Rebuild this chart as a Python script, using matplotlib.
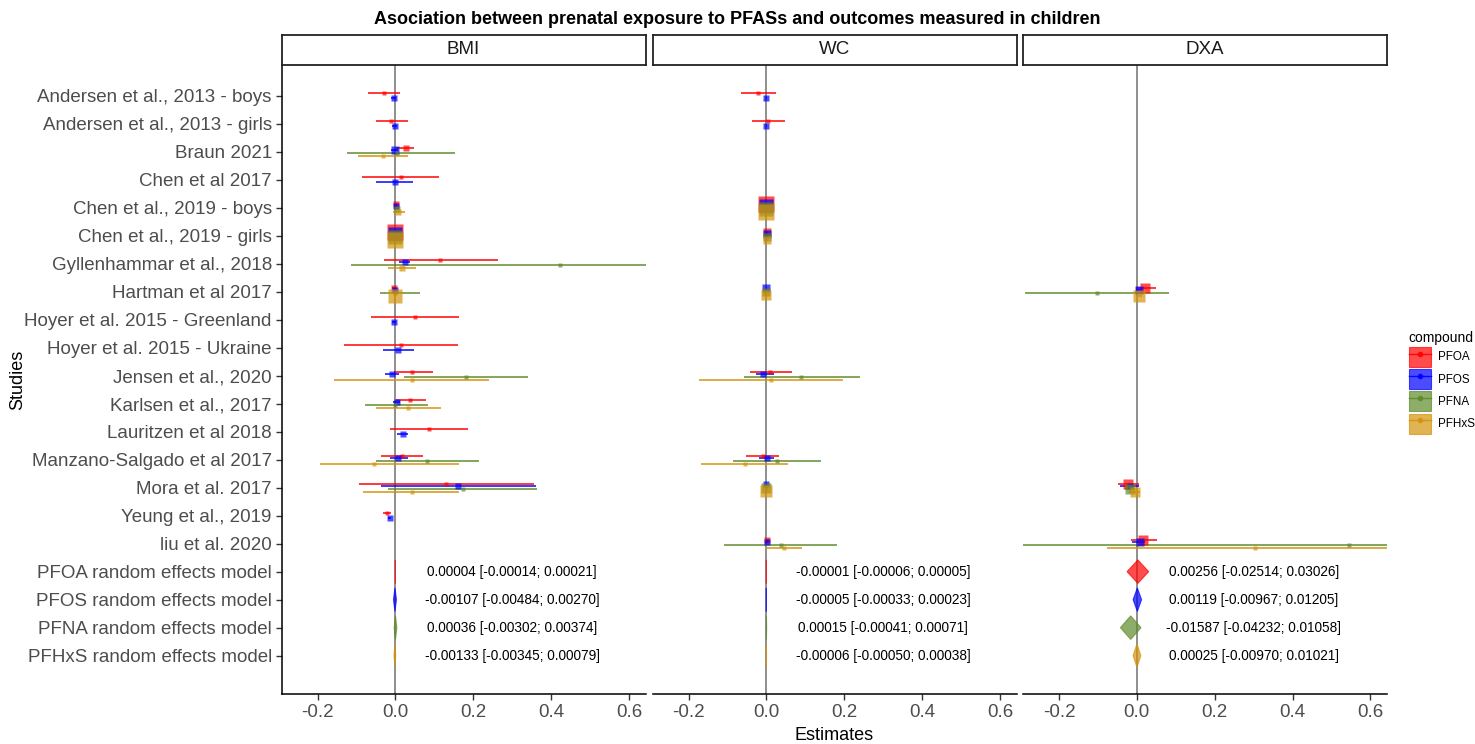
import numpy as np
import matplotlib
matplotlib.use("Agg")
import matplotlib.pyplot as plt
from matplotlib.patches import Patch, Polygon
from matplotlib.lines import Line2D
from matplotlib.legend_handler import HandlerTuple
from matplotlib.ticker import FormatStrFormatter
from matplotlib import font_manager

plt.rcParams['font.family'] = ['Liberation Sans', 'DejaVu Sans']
plt.rcParams['axes.unicode_minus'] = False

# ---------------- data ----------------
studies = ["Andersen et al., 2013 - boys", "Andersen et al., 2013 - girls", "Braun 2021",
           "Chen et al 2017", "Chen et al., 2019 - boys", "Chen et al., 2019 - girls",
           "Gyllenhammar et al., 2018", "Hartman et al 2017", "Hoyer et al. 2015 - Greenland",
           "Hoyer et al. 2015 - Ukraine", "Jensen et al., 2020", "Karlsen et al., 2017",
           "Lauritzen et al 2018", "Manzano-Salgado et al 2017", "Mora et al. 2017",
           "Yeung et al., 2019", "liu et al. 2020"]
re_labels = ["PFOA random effects model", "PFOS random effects model",
             "PFNA random effects model", "PFHxS random effects model"]
outcomes = ["BMI", "WC", "DXA"]
compounds = ["PFOA", "PFOS", "PFNA", "PFHxS"]
colors = ["#FF0000", "#0000FF", "#5F8A2A", "#D4930A"]

N = None
# (estimate, lower, upper, weight) per study, None = not reported
BMI_PFOA = [(-0.028, -0.071, 0.012, 1), (-0.011, -0.051, 0.033, 1), (0.027, 0.002, 0.049, 2),
            (0.015, -0.085, 0.113, 1), (0.001, -0.003, 0.005, 5), (0.000, -0.002, 0.002, 100),
            (0.115, -0.030, 0.263, 1), (-0.003, -0.008, 0.002, 4), (0.050, -0.062, 0.163, 1),
            (0.015, -0.131, 0.160, 1), (0.042, -0.003, 0.096, 1), (0.038, 0.002, 0.079, 1),
            (0.087, -0.013, 0.187, 1), (0.016, -0.037, 0.070, 1), (0.130, -0.094, 0.357, 1),
            (-0.021, -0.031, -0.011, 1), N]
BMI_PFOS = [(-0.004, -0.010, 0.002, 7), (-0.002, -0.008, 0.004, 7), (-0.002, -0.010, 0.006, 10),
            (-0.002, -0.050, 0.046, 2), (0.001, -0.002, 0.004, 6), (0.000, -0.002, 0.002, 90),
            (0.024, 0.010, 0.038, 4), (-0.002, -0.006, 0.002, 5), (-0.003, -0.008, 0.002, 8),
            (0.008, -0.031, 0.049, 4), (-0.008, -0.026, 0.010, 5), (0.004, -0.005, 0.012, 7),
            (0.020, 0.004, 0.033, 5), (0.008, -0.015, 0.032, 5), (0.162, -0.038, 0.361, 2),
            (-0.015, -0.020, -0.010, 5), N]
BMI_PFNA = [N, N, (0.005, -0.124, 0.153, 1), N, (0.004, -0.002, 0.010, 7),
            (0.000, -0.002, 0.002, 90), (0.423, -0.114, 0.960, 1), (0.000, -0.039, 0.062, 1),
            N, N, (0.181, 0.023, 0.341, 1), (0.000, -0.079, 0.083, 1), N,
            (0.080, -0.051, 0.214, 1), (0.173, -0.020, 0.365, 1), N, N]
BMI_PFHxS = [N, N, (-0.032, -0.096, 0.032, 1), N, (0.007, -0.005, 0.025, 5),
             (0.000, -0.002, 0.002, 100), (0.016, -0.020, 0.053, 2), (-0.001, -0.004, 0.002, 70),
             N, N, (0.042, -0.158, 0.241, 1), (0.032, -0.051, 0.117, 1), N,
             (-0.055, -0.193, 0.164, 1), (0.042, -0.084, 0.164, 1), N, N]

WC_PFOA = [(-0.021, -0.064, 0.024, 1), (0.003, -0.038, 0.047, 1), N, N,
           (0.000, -0.002, 0.002, 95), (0.002, 0.000, 0.004, 12), N, N, N, N,
           (0.009, -0.043, 0.067, 1), N, N, (-0.009, -0.053, 0.032, 1), N, N,
           (0.002, -0.002, 0.006, 3)]
WC_PFOS = [(0.000, -0.002, 0.002, 2), (0.000, -0.002, 0.002, 2), N, N,
           (0.000, -0.002, 0.002, 90), (0.002, 0.000, 0.004, 12), N, (0.000, -0.002, 0.002, 15),
           N, N, (-0.009, -0.027, 0.020, 2), N, N, (0.001, -0.019, 0.020, 2),
           (0.000, -0.002, 0.002, 3), N, (0.001, -0.002, 0.004, 4)]
WC_PFNA = [N, N, N, N, (0.000, -0.002, 0.002, 90), (0.002, 0.000, 0.004, 12), N,
           (0.000, -0.002, 0.002, 20), N, N, (0.090, -0.057, 0.240, 1), N, N,
           (0.028, -0.085, 0.141, 1), (0.000, -0.003, 0.003, 34), N,
           (0.038, -0.109, 0.182, 1)]
WC_PFHxS = [N, N, N, N, (0.000, -0.002, 0.002, 95), (0.002, 0.000, 0.004, 12), N,
            (0.000, -0.002, 0.002, 30), N, N, (0.011, -0.173, 0.196, 1), N, N,
            (-0.055, -0.167, 0.055, 1), (0.000, -0.003, 0.003, 56), N,
            (0.044, -0.002, 0.092, 1)]

DXA_PFOA = [N, N, N, N, N, N, N, (0.020, -0.003, 0.048, 30), N, N, N, N, N, N,
            (-0.022, -0.049, 0.005, 25), N, (0.016, -0.016, 0.052, 22)]
DXA_PFOS = [N, N, N, N, N, N, N, (0.005, -0.002, 0.012, 15), N, N, N, N, N, N,
            (-0.017, -0.043, 0.005, 2), N, (0.007, -0.013, 0.020, 12)]
DXA_PFNA = [N, N, N, N, N, N, N, (-0.103, -0.288, 0.082, 1), N, N, N, N, N, N,
            (-0.018, -0.030, -0.005, 34), N, (0.544, -0.350, 1.440, 1)]
DXA_PFHxS = [N, N, N, N, N, N, N, (0.005, -0.003, 0.013, 40), N, N, N, N, N, N,
             (-0.006, -0.020, 0.008, 34), N, (0.304, -0.076, 0.684, 1)]

# random-effects pooled estimates: (estimate, lower, upper) for PFOA, PFOS, PFNA, PFHxS
RE_BMI = [(0.00004, -0.00014, 0.00021), (-0.00107, -0.00484, 0.00270),
          (0.00036, -0.00302, 0.00374), (-0.00133, -0.00345, 0.00079)]
RE_WC = [(-0.00001, -0.00006, 0.00005), (-0.00005, -0.00033, 0.00023),
         (0.00015, -0.00041, 0.00071), (-0.00006, -0.00050, 0.00038)]
RE_DXA = [(0.00256, -0.02514, 0.03026), (0.00119, -0.00967, 0.01205),
          (-0.01587, -0.04232, 0.01058), (0.00025, -0.00970, 0.01021)]

xticks = [-0.2, 0.0, 0.2, 0.4, 0.6]

panel_data = {
    "BMI": [BMI_PFOA, BMI_PFOS, BMI_PFNA, BMI_PFHxS],
    "WC": [WC_PFOA, WC_PFOS, WC_PFNA, WC_PFHxS],
    "DXA": [DXA_PFOA, DXA_PFOS, DXA_PFNA, DXA_PFHxS],
}
panel_re = {"BMI": RE_BMI, "WC": RE_WC, "DXA": RE_DXA}

# ---------------- layout ----------------
W, H = 1475, 744
fig = plt.figure(figsize=(W / 100, H / 100), dpi=100)

panel_lefts = [281.5, 652.5, 1023.0]
panel_w = 364.0
p_top, p_bot = 64.5, 694.0
strip_top = 35.0

DODGE = 0.372
HALF_H = 0.42
ALPHA_PT = 0.7
ALPHA_LN = 0.8

def side_pt(w):
    return (3.5 + 1.2 * np.sqrt(w)) * 0.72

n_rows = len(studies) + len(re_labels)
ypos = np.arange(1, n_rows + 1)

for j, outcome in enumerate(outcomes):
    L = panel_lefts[j]
    ax = fig.add_axes([L / W, 1 - p_bot / H, panel_w / W, (p_bot - p_top) / H])
    ax.set_xlim(-0.2925, 0.6425)
    ax.set_ylim(22.37, -0.114)
    ax.axvline(0, color="#707070", lw=1.1, zorder=1)

    series = panel_data[outcome]
    for i in range(len(studies)):
        present = [k for k in range(4) if series[k][i] is not None]
        n = len(present)
        for m, k in enumerate(present):
            est, lo, hi, w = series[k][i]
            off = -DODGE / 2 + DODGE / (2 * n) + m * DODGE / n
            y = ypos[i] + off
            ax.plot([lo, hi], [y, y], color=colors[k], alpha=ALPHA_LN, lw=1.35,
                    solid_capstyle="butt", zorder=2)
            ax.plot([est], [y], marker="s", ms=side_pt(w), color=colors[k],
                    alpha=ALPHA_PT, mec="none", zorder=3)

    for k, (est, lo, hi) in enumerate(panel_re[outcome]):
        r = ypos[len(studies) + k]
        poly = Polygon([(lo, r), (est, r - HALF_H), (hi, r), (est, r + HALF_H)],
                       closed=True, facecolor=colors[k], edgecolor=colors[k],
                       alpha=0.7, lw=0.8, zorder=3)
        ax.add_patch(poly)
        ax.text(0.3, r, f"{est:.5f} [{lo:.5f}; {hi:.5f}]", ha="center", va="center",
                fontsize=9.8, color="black", zorder=4)

    ax.set_xticks(xticks)
    ax.xaxis.set_major_formatter(FormatStrFormatter("%.1f"))
    for s in ["top", "right"]:
        ax.spines[s].set_visible(False)
    ax.spines["bottom"].set_linewidth(1.1)
    ax.spines["bottom"].set_color("black")
    ax.tick_params(axis="x", length=4, width=1, color="#333333", labelsize=13.5,
                   labelcolor="#4D4D4D", pad=3)
    if j == 0:
        ax.set_yticks(ypos)
        ax.set_yticklabels(studies + re_labels)
        ax.spines["left"].set_linewidth(1.1)
        ax.spines["left"].set_color("black")
        ax.tick_params(axis="y", length=4, width=1, color="#333333", labelsize=13.5,
                       labelcolor="#4D4D4D", pad=3)
    else:
        ax.spines["left"].set_visible(False)
        ax.set_yticks([])

    # strip
    sax = fig.add_axes([L / W, 1 - p_top / H, panel_w / W, (p_top - strip_top) / H])
    sax.set_xticks([])
    sax.set_yticks([])
    for s in sax.spines.values():
        s.set_linewidth(1.3)
        s.set_color("#222222")
    sax.text(0.5, 0.5, outcome, ha="center", va="center", fontsize=13.5,
             color="#1A1A1A", transform=sax.transAxes)

available = {f.name for f in font_manager.fontManager.ttflist}
if "Liberation Sans Narrow" in available:
    title_family = ["Liberation Sans Narrow", "DejaVu Sans"]
    title_size = 14.5
else:
    title_family = ["Liberation Sans", "DejaVu Sans"]
    title_size = 13
fig.text(0.5, 1 - 19 / H,
         "Asociation between prenatal exposure to PFASs and outcomes measured in children",
         ha="center", va="center", fontsize=title_size, fontweight="bold", family=title_family)
fig.text(18 / W, 1 - 380 / H, "Studies", rotation=90, ha="center", va="center", fontsize=13)
fig.text(834 / W, 1 - 736 / H, "Estimates", ha="center", va="center", fontsize=13)

handles = []
for c in colors:
    handles.append((Patch(facecolor=c, edgecolor=c, alpha=0.7, lw=0.8),
                    Line2D([], [], color=c, lw=1.0, marker="o", ms=3, alpha=0.9)))
fig.legend(handles, compounds, title="compound", loc="upper left",
           bbox_to_anchor=(1398 / W, 1 - 320 / H), frameon=False, fontsize=8.4,
           title_fontsize=10, handlelength=1.9, handleheight=2.25, labelspacing=0.2,
           handletextpad=0.6, alignment="left",
           handler_map={tuple: HandlerTuple(ndivide=1, pad=0)})

fig.savefig("out.png", dpi=100)
